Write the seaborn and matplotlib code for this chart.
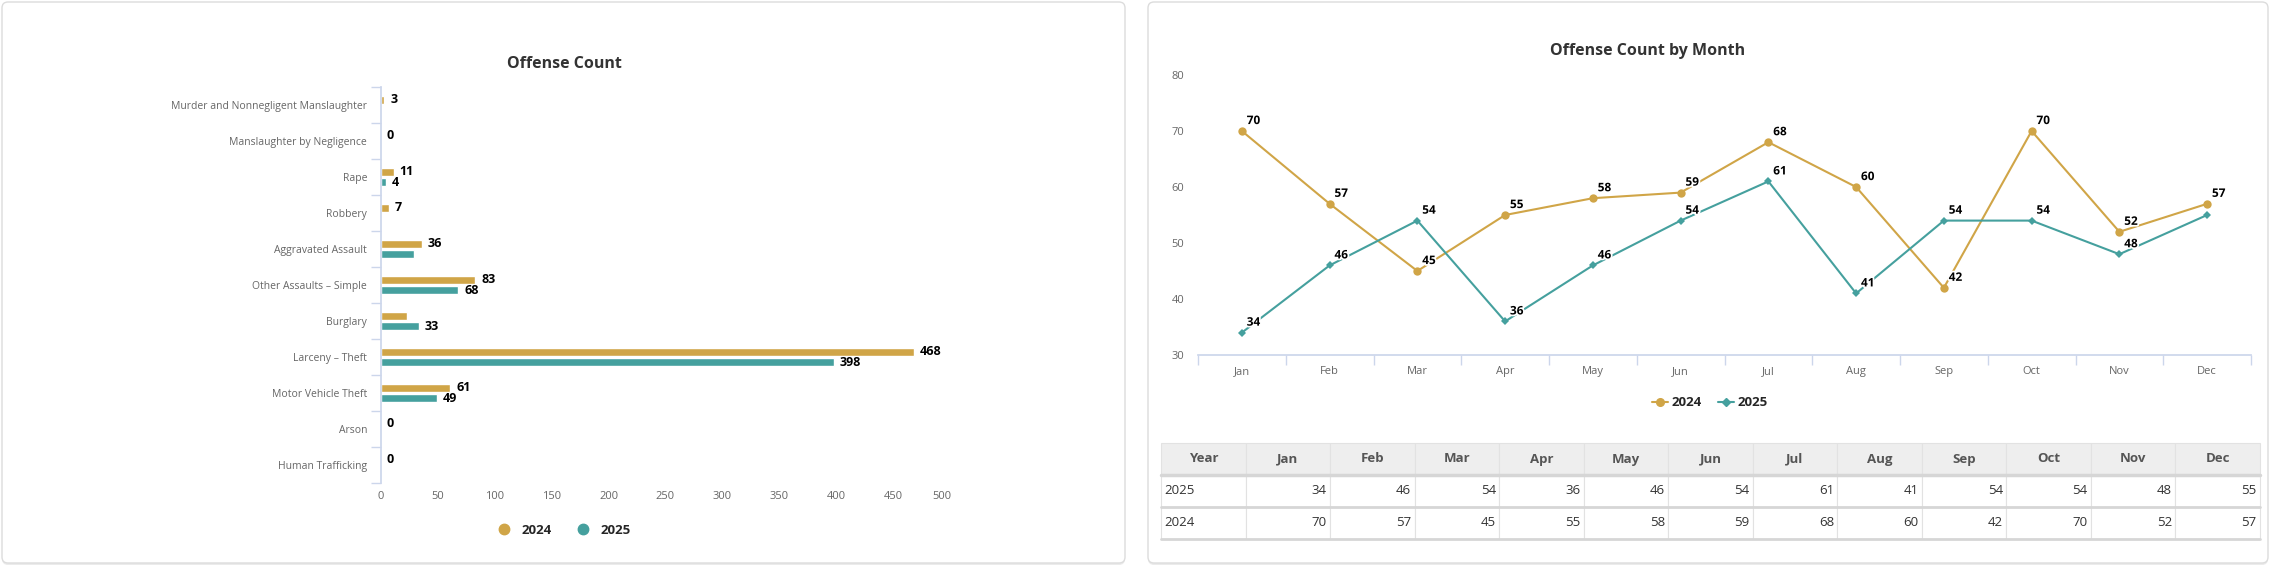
import numpy as np
import pandas as pd
import matplotlib
matplotlib.use('Agg')
import matplotlib.pyplot as plt
import matplotlib.patheffects as pe
from matplotlib.patches import FancyBboxPatch
from matplotlib.lines import Line2D
from matplotlib.transforms import IdentityTransform, Bbox, ScaledTranslation
import seaborn as sns

sns.set_theme(style='white')
plt.rcParams['font.family'] = ['Open Sans', 'DejaVu Sans']

# ---- data ----
offenses = ['Murder and Nonnegligent Manslaughter', 'Manslaughter by Negligence', 'Rape',
            'Robbery', 'Aggravated Assault', 'Other Assaults \u2013 Simple', 'Burglary',
            'Larceny \u2013 Theft', 'Motor Vehicle Theft', 'Arson', 'Human Trafficking']
counts_2024 = [3, 0, 11, 7, 36, 83, 23, 468, 61, 0, 0]
counts_2025 = [None, 0, 4, None, 29, 68, 33, 398, 49, 0, 0]
years = ['2024', '2025']
months = ['Jan', 'Feb', 'Mar', 'Apr', 'May', 'Jun', 'Jul', 'Aug', 'Sep', 'Oct', 'Nov', 'Dec']
monthly_2024 = [70, 57, 45, 55, 58, 59, 68, 60, 42, 70, 52, 57]
monthly_2025 = [34, 46, 54, 36, 46, 54, 61, 41, 54, 54, 48, 55]

GOLD = '#D0A547'
TEAL = '#45A09E'
GREY = '#666666'
AXIS = '#CCD6EB'

W, H = 2275, 569
fig = plt.figure(figsize=(W / 100, H / 100), dpi=100)
fig.patch.set_facecolor('white')


def px(x0, y0, x1, y1):
    # pixel box (top-left origin) -> figure fraction rect
    return [x0 / W, 1 - y1 / H, (x1 - x0) / W, (y1 - y0) / H]


# card backgrounds (soft shadow + white card)
for x0, x1 in [(2, 1125), (1148, 2268)]:
    fig.patches.append(FancyBboxPatch((x0, H - 565), x1 - x0, 561,
                                      boxstyle='round,pad=0,rounding_size=6',
                                      transform=IdentityTransform(), fc='#EBEBEB',
                                      ec='none', zorder=-6))
    fig.patches.append(FancyBboxPatch((x0, H - 563), x1 - x0, 561,
                                      boxstyle='round,pad=0,rounding_size=6',
                                      transform=IdentityTransform(), fc='white',
                                      ec='#DCDCDC', lw=1, zorder=-5))

# ---- left: horizontal bars ----
df_bar = pd.DataFrame({'offense': offenses * 2,
                       'year': [years[0]] * len(offenses) + [years[1]] * len(offenses),
                       'count': counts_2024 + counts_2025})
df_bar['count'] = df_bar['count'].astype(float)

ax1 = fig.add_axes(px(381, 87, 950, 483))
sns.barplot(data=df_bar, y='offense', x='count', hue='year', orient='h',
            palette=[GOLD, TEAL], saturation=1, width=0.56, gap=0.22,
            errorbar=None, legend=False, ax=ax1)
ax1.set_xlim(0, 500)
ax1.set_ylim(len(offenses) - 0.5, -0.5)
ax1.set_xticks(range(0, 501, 50))
ax1.set_yticks(np.arange(-0.5, len(offenses), 1), minor=True)
ax1.tick_params(axis='y', which='minor', length=7, width=1, color=AXIS, left=True)
ax1.tick_params(axis='y', which='major', length=0, pad=10, labelsize=7.5, labelcolor=GREY)
ax1.tick_params(axis='x', length=0, pad=6, labelsize=8, labelcolor=GREY)
for s in ['top', 'right', 'bottom']:
    ax1.spines[s].set_visible(False)
ax1.spines['left'].set_color(AXIS)
ax1.set_xlabel('')
ax1.set_ylabel('')
# last value label is pulled inside, as the original does
last = ax1.xaxis.get_major_ticks()[-1].label1
last.set_transform(last.get_transform() + ScaledTranslation(-0.08, 0, fig.dpi_scale_trans))

bar_texts = []
for cont in ax1.containers:
    txts = ax1.bar_label(cont, padding=4.3, fontsize=9, fontweight='bold', color='black')
    for patch, t, v in zip(cont.patches, txts, cont.datavalues):
        if np.isnan(v):
            t.set_visible(False)
            continue
        bar_texts.append((round(patch.get_y() + patch.get_height() / 2), t, v))

fig.text(564 / W, 1 - 64 / H, 'Offense Count', ha='center', va='center',
         fontsize=11.5, fontweight='bold', color='#333333')
fig.legend(handles=[Line2D([], [], ls='', marker='o', ms=7.5, color=c) for c in [GOLD, TEAL]],
           labels=years, loc='center', bbox_to_anchor=(561 / W, 1 - 530 / H), ncol=2,
           frameon=False, handletextpad=0.3, columnspacing=1.4,
           prop={'size': 9.5, 'weight': 'bold'})

# ---- right: monthly lines ----
df_line = pd.DataFrame({'month': months * 2,
                        'year': [years[0]] * 12 + [years[1]] * 12,
                        'count': monthly_2024 + monthly_2025})
ax2 = fig.add_axes(px(1198, 75, 2251, 355))
sns.lineplot(data=df_line, x='month', y='count', hue='year', style='year',
             palette=[GOLD, TEAL], markers={'2024': 'o', '2025': 'D'}, dashes=False,
             sort=False, lw=1.5, markeredgewidth=0, legend=False, ax=ax2)
ax2.lines[0].set_markersize(6)
ax2.lines[1].set_markersize(4.5)
ax2.set_xlim(-0.5, 11.5)
ax2.set_ylim(30, 80)
ax2.set_yticks(range(30, 81, 10))
ax2.set_xticks(np.arange(-0.5, 12, 1), minor=True)
ax2.tick_params(axis='x', which='minor', length=7, width=1, color=AXIS, bottom=True)
ax2.tick_params(axis='x', which='major', length=0, pad=8, labelsize=8, labelcolor=GREY)
ax2.tick_params(axis='y', length=0, pad=10, labelsize=8, labelcolor=GREY)
for s in ['top', 'right', 'left']:
    ax2.spines[s].set_visible(False)
ax2.spines['bottom'].set_color(AXIS)
ax2.set_xlabel('')
ax2.set_ylabel('')

line_texts = []
for vals in [monthly_2024, monthly_2025]:
    for i, v in enumerate(vals):
        t = ax2.annotate(str(v), (i, v), xytext=(3.5, 5), textcoords='offset points',
                         ha='left', va='baseline', fontsize=8.5, fontweight='bold', color='black',
                         path_effects=[pe.withStroke(linewidth=2.5, foreground='white')])
        line_texts.append((i, t, v))

fig.text(1648 / W, 1 - 51 / H, 'Offense Count by Month', ha='center', va='center',
         fontsize=11.5, fontweight='bold', color='#333333')
fig.legend(handles=[Line2D([], [], color=GOLD, lw=1.5, marker='o', ms=5.5),
                    Line2D([], [], color=TEAL, lw=1.5, marker='D', ms=4.5)],
           labels=years, loc='center', bbox_to_anchor=(1710 / W, 1 - 403 / H), ncol=2,
           frameon=False, handlelength=1.2, handletextpad=0.3, columnspacing=1.2,
           prop={'size': 9.5, 'weight': 'bold'})

# ---- table ----
ax3 = fig.add_axes(px(1161, 443, 2260, 539))
ax3.axis('off')
cell_text = [[years[1]] + [str(v) for v in monthly_2025],
             [years[0]] + [str(v) for v in monthly_2024]]
tbl = ax3.table(cellText=cell_text, colLabels=['Year'] + months, bbox=[0, 0, 1, 1],
                cellLoc='right', colLoc='center')
tbl.auto_set_font_size(False)
tbl.set_fontsize(9.5)
for (r, c), cell in tbl.get_celld().items():
    cell.set_edgecolor('#E2E2E2')
    cell.set_linewidth(0.8)
    if r == 0:
        cell.set_facecolor('#EEEEEE')
        cell.get_text().set_fontweight('bold')
        cell.get_text().set_color('#555555')
    else:
        cell.set_facecolor('white')
        cell.get_text().set_color('#333333')
        cell.PAD = 0.04
        if c == 0:
            cell.get_text().set_ha('left')
for yy, lw in [(2 / 3, 2.5), (1 / 3, 2), (0, 2)]:
    ax3.plot([0, 1], [yy, yy], transform=ax3.transAxes, color='#D6D6D6', lw=lw,
             clip_on=False, zorder=5)

# ---- hide overlapping data labels (keep larger value) ----
fig.canvas.draw()
rend = fig.canvas.get_renderer()


def hide_overlaps(items):
    groups = {}
    for g, t, v in items:
        groups.setdefault(g, []).append((t, v))
    for lst in groups.values():
        lst.sort(key=lambda p: -p[1])
        kept = []
        for t, v in lst:
            b = t.get_window_extent(rend)
            b = Bbox.from_extents(b.x0 + 1, b.y0 - 2, b.x1 - 1, b.y1 + 2)
            if any(b.overlaps(k) for k in kept):
                t.set_visible(False)
            else:
                kept.append(b)


hide_overlaps(bar_texts)
hide_overlaps(line_texts)

fig.savefig('out.png', dpi=100, facecolor='white')
